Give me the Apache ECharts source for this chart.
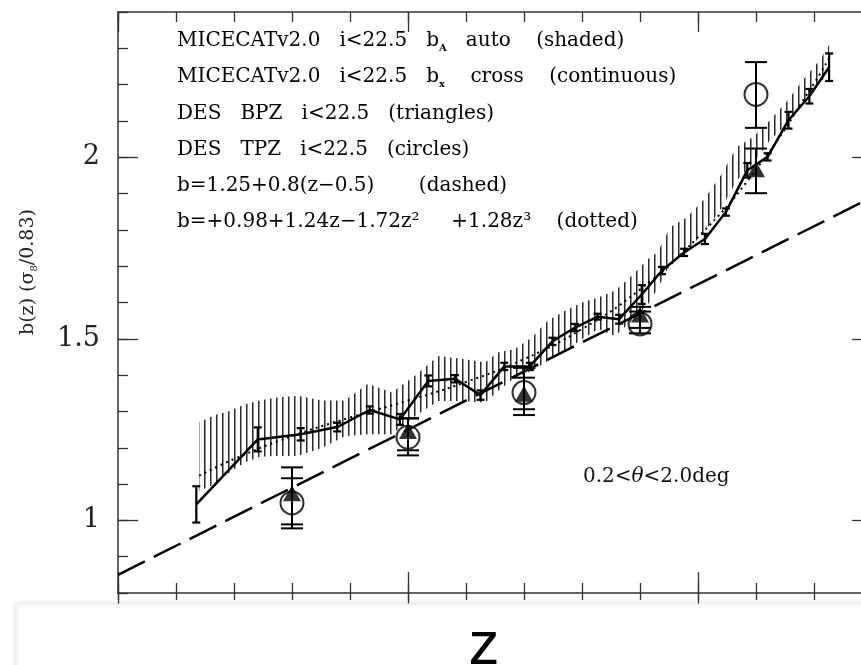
<!DOCTYPE html>
<html><head><meta charset="utf-8">
<script src="https://cdn.jsdelivr.net/npm/echarts@6/dist/echarts.min.js"></script>
<style>html,body{margin:0;padding:0;background:#fff}#c{width:861px;height:665px}</style>
</head><body><div id="c"></div>
<script>
// ---- MICECAT b_x cross (continuous line with error bars)
const micZ   = [0.135,0.241,0.315,0.378,0.434,0.486,0.535,0.581,0.625,0.666,0.710,0.749,0.788,0.827,0.864,0.903,0.938,0.976,1.012,1.048,1.085,1.120,1.156,1.192,1.226];
const micB   = [1.044,1.223,1.237,1.257,1.304,1.278,1.384,1.390,1.345,1.424,1.424,1.493,1.531,1.561,1.554,1.622,1.688,1.738,1.775,1.849,1.964,2.001,2.102,2.168,2.248];
const micErr = [0.050,0.033,0.017,0.012,0.010,0.015,0.015,0.010,0.013,0.010,0.010,0.010,0.010,0.008,0.012,0.026,0.010,0.010,0.014,0.010,0.020,0.010,0.023,0.020,0.038];
// ---- MICECAT b_A auto (shaded band)
const bandZ  = [0.140,0.167,0.190,0.219,0.245,0.271,0.310,0.352,0.391,0.431,0.472,0.512,0.552,0.593,0.633,0.655,0.684,0.714,0.741,0.771,0.800,0.828,0.857,0.886,0.914,0.931,0.952,0.981,1.009,1.038,1.067,1.095,1.124,1.155,1.181,1.210,1.226];
const bandHi = [1.270,1.290,1.300,1.320,1.330,1.338,1.343,1.330,1.330,1.376,1.352,1.398,1.453,1.445,1.435,1.462,1.472,1.504,1.550,1.577,1.600,1.614,1.633,1.674,1.720,1.740,1.807,1.835,1.881,1.946,2.028,2.056,2.102,2.157,2.213,2.268,2.310];
const bandLo = [1.080,1.100,1.130,1.160,1.175,1.177,1.177,1.200,1.232,1.237,1.237,1.287,1.329,1.329,1.324,1.356,1.393,1.412,1.439,1.467,1.499,1.527,1.508,1.550,1.596,1.640,1.707,1.743,1.790,1.854,1.936,1.983,2.047,2.094,2.153,2.204,2.232];
// ---- dotted fit curve
const dotZ = [0.14,0.2,0.3,0.4,0.5,0.6,0.7,0.8,0.9,1.0,1.1,1.2,1.23];
const dotB = [1.123,1.169,1.232,1.283,1.330,1.381,1.444,1.527,1.636,1.780,1.966,2.203,2.285];
// ---- dashed linear relation
const dashZ = [0.0,1.3];
const dashB = [0.85,1.89];
// ---- DES points
const desZ  = [0.3,0.5,0.7,0.9,1.1];
const bpzB  = [1.075,1.246,1.349,1.567,1.967];
const bpzHi = [1.116,1.281,1.393,1.575,2.024];
const bpzLo = [0.989,1.193,1.306,1.530,1.901];
const tpzB  = [1.048,1.229,1.352,1.541,2.173];
const tpzHi = [1.146,1.281,1.420,1.588,2.262];
const tpzLo = [0.978,1.179,1.290,1.515,2.081];
// ---- axis ticks
const yLabels = [1,1.5,2];
const xMajor = [0,0.5,1.0];

const pat = document.createElement('canvas'); pat.width = 6; pat.height = 6;
const pc = pat.getContext('2d');
pc.fillStyle = '#2a2a2a'; pc.fillRect(0,0,1,6);
pc.fillStyle = '#909090'; pc.fillRect(1,0,1,6);

const chart = echarts.init(document.getElementById('c'), null, {renderer:'canvas'});
const axCol = '#333';
function xa(pos, showLine, inside, len, custom){
  const o = {type:'value', min:0, max:1.3, interval:0.1, position:pos, gridIndex:0,
    axisLine:{show:showLine, onZero:false, lineStyle:{color:axCol,width:1.5}},
    axisTick:{show:true, inside:inside, length:len, lineStyle:{color:axCol,width:1.3}},
    axisLabel:{show:false}, splitLine:{show:false}};
  if (custom) o.axisTick.customValues = custom;
  return o;
}
function ya(pos, showLine, len, custom, labels){
  const o = {type:'value', min:0.8, max:2.4, interval:0.1, position:pos, gridIndex:0,
    axisLine:{show:showLine, onZero:false, lineStyle:{color:axCol,width:1.5}},
    axisTick:{show:true, inside:true, length:len, lineStyle:{color:axCol,width:1.3}},
    axisLabel:{show:false}, splitLine:{show:false}};
  if (custom) o.axisTick.customValues = custom;
  if (labels) o.axisLabel = {show:true, customValues:labels, margin:18, color:'#222',
    fontFamily:'DejaVu Serif', fontSize:27, formatter:v=>String(+v.toFixed(1))};
  return o;
}
function errRender(capHalf, lw){
  return function(params, api){
    const x = api.value(0), lo = api.value(1), hi = api.value(2);
    const p1 = api.coord([x,hi]), p2 = api.coord([x,lo]);
    const st = {stroke:'#000', lineWidth:lw};
    return {type:'group', children:[
      {type:'line', shape:{x1:p1[0],y1:p1[1],x2:p2[0],y2:p2[1]}, style:st},
      {type:'line', shape:{x1:p1[0]-capHalf,y1:p1[1],x2:p1[0]+capHalf,y2:p1[1]}, style:st},
      {type:'line', shape:{x1:p2[0]-capHalf,y1:p2[1],x2:p2[0]+capHalf,y2:p2[1]}, style:st}
    ]};
  };
}
const ff = 'DejaVu Serif';
const legendLines = [
  'MICECATv2.0   i<22.5   b{sa|A}   auto    (shaded)',
  'MICECATv2.0   i<22.5   b{sa|x}    cross    (continuous)',
  'DES   BPZ   i<22.5   (triangles)',
  'DES   TPZ   i<22.5   (circles)',
  'b=1.25+0.8(z\u22120.5)       (dashed)',
  'b=+0.98+1.24z\u22121.72z\u00b2     +1.28z\u00b3    (dotted)'
];
const legendY = [41,77,114,150,186,222];
const graphics = legendLines.map((t,i)=>({type:'text', x:177, y:legendY[i], z:50,
  style:{text:t, fontFamily:ff, fontSize:20, fill:'#000', verticalAlign:'middle', lineHeight:24,
    rich:{sa:{fontFamily:ff, fontSize:10, fontWeight:'bold', verticalAlign:'bottom', fill:'#000'}}}}));
graphics.push({type:'text', x:583, y:477, z:50, style:{text:'0.2<{it|\u03b8}<2.0deg', fontFamily:ff, fontSize:20, fill:'#111', verticalAlign:'middle',
  rich:{it:{fontFamily:ff, fontSize:20, fontStyle:'italic', fill:'#111'}}}});
graphics.push({type:'text', x:28, y:272, rotation:Math.PI/2, z:50, style:{text:'b(z) (\u03c3{s8|8}/0.83)', fontFamily:ff, fontSize:19, fill:'#222',
  align:'center', verticalAlign:'middle', lineHeight:22, rich:{s8:{fontFamily:ff, fontSize:10, verticalAlign:'bottom', fill:'#222'}}}});
graphics.push({type:'rect', shape:{x:16, y:604, width:900, height:80}, z:90,
  style:{fill:'#fff', stroke:'#ececec', lineWidth:1, shadowBlur:4, shadowColor:'rgba(0,0,0,0.12)'}});
graphics.push({type:'text', x:484, y:647, z:95, style:{text:'z', fontFamily:'Liberation Sans', fontSize:62, fill:'#000', align:'center', verticalAlign:'middle'}});

chart.setOption({
  animation:false,
  backgroundColor:'#fff',
  grid:{left:118, top:12, width:754, height:581, containLabel:false, outerBoundsMode:'none'},
  xAxis:[ xa('bottom',true,true,10), xa('bottom',false,true,21,xMajor), xa('bottom',false,false,7), xa('bottom',false,false,12,xMajor),
          xa('top',true,true,10), xa('top',false,true,20,xMajor) ],
  yAxis:[ ya('left',true,10,null,yLabels), ya('left',false,20,yLabels), ya('right',true,10), ya('right',false,20,yLabels) ],
  graphic:graphics,
  series:[
    {type:'custom', name:'auto', z:1, data:bandZ.map((z,i)=>[z,bandLo[i],bandHi[i]]), encode:{x:0,y:[1,2]},
      renderItem:function(params, api){
        if (params.dataIndex !== 0) return null;
        const pts = [];
        for (let i=0;i<bandZ.length;i++) pts.push(api.coord([bandZ[i],bandHi[i]]));
        for (let i=bandZ.length-1;i>=0;i--) pts.push(api.coord([bandZ[i],bandLo[i]]));
        return {type:'polygon', shape:{points:pts}, style:{fill:{image:pat, repeat:'repeat'}, stroke:null}};
      }},
    {type:'line', name:'dashed', z:3, data:dashZ.map((z,i)=>[z,dashB[i]]), symbol:'none', clip:true,
      lineStyle:{color:'#000', width:2.5, type:[30,10]}},
    {type:'line', name:'dotted', z:3, data:dotZ.map((z,i)=>[z,dotB[i]]), symbol:'none', smooth:true,
      lineStyle:{color:'#000', width:2, type:[2,4]}},
    {type:'line', name:'cross', z:4, data:micZ.map((z,i)=>[z,micB[i]]), symbol:'none',
      lineStyle:{color:'#000', width:2.5}},
    {type:'custom', name:'crossErr', z:5, data:micZ.map((z,i)=>[z,micB[i]-micErr[i],micB[i]+micErr[i]]), encode:{x:0,y:[1,2]},
      renderItem:errRender(4,2.2)},
    {type:'custom', name:'bpzErr', z:5, data:desZ.map((z,i)=>[z,bpzLo[i],bpzHi[i]]), encode:{x:0,y:[1,2]},
      renderItem:errRender(11,2)},
    {type:'custom', name:'tpzErr', z:5, data:desZ.map((z,i)=>[z,tpzLo[i],tpzHi[i]]), encode:{x:0,y:[1,2]},
      renderItem:errRender(11,2)},
    {type:'scatter', name:'BPZ', z:6, data:desZ.map((z,i)=>[z,bpzB[i]]), symbol:'triangle', symbolSize:[18,16],
      itemStyle:{color:'#000'}},
    {type:'scatter', name:'TPZ', z:7, data:desZ.map((z,i)=>[z,tpzB[i]]), symbol:'circle', symbolSize:23,
      itemStyle:{color:'rgba(0,0,0,0)', borderColor:'#000', borderWidth:2}}
  ]
});
</script></body></html>
